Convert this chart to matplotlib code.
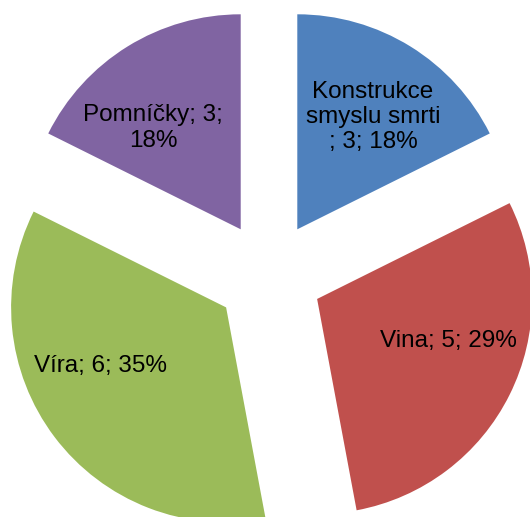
import matplotlib
matplotlib.use("Agg")
import matplotlib.pyplot as plt

categories = ["Konstrukce smyslu smrti", "Vina", "Víra", "Pomníčky"]
values = [3, 5, 6, 3]
label_lines = ["Konstrukce\nsmyslu smrti\n", "Vina", "Víra", "Pomníčky"]
label_breaks = ["", "", "", "\n"]
colors = ["#4F81BD", "#C0504D", "#9BBB59", "#8064A2"]

W, H = 530, 517
R = 215.0
cx, cy = 269.0, 275.0

fig = plt.figure(figsize=(W / 100, H / 100), dpi=100)
ax = fig.add_axes([0, 0, 1, 1])
ax.pie(values, colors=colors, startangle=90, counterclock=False,
       explode=[0.25] * len(values), radius=1.0,
       wedgeprops=dict(linewidth=0))
ax.set_xlim(-cx / R, (W - cx) / R)
ax.set_ylim(-(H - cy) / R, cy / R)
ax.set_aspect("equal")
ax.axis("off")

total = sum(values)
label_px = [(373, 117), (448, 341), (100, 366), (153, 128)]
for name, brk, v, (px, py) in zip(label_lines, label_breaks, values, label_px):
    pct = round(100 * v / total)
    if name.endswith("\n"):
        txt = f"{name}; {v}; {pct}%"
    else:
        txt = f"{name}; {v};{brk if brk else ' '}{pct}%"
    ax.text((px - cx) / R, (cy - py) / R, txt, ha="center", va="center",
            fontsize=17.5, family=["Liberation Sans", "DejaVu Sans"],
            color="black", linespacing=1.2, multialignment="center")

fig.savefig("out.png", dpi=100)
